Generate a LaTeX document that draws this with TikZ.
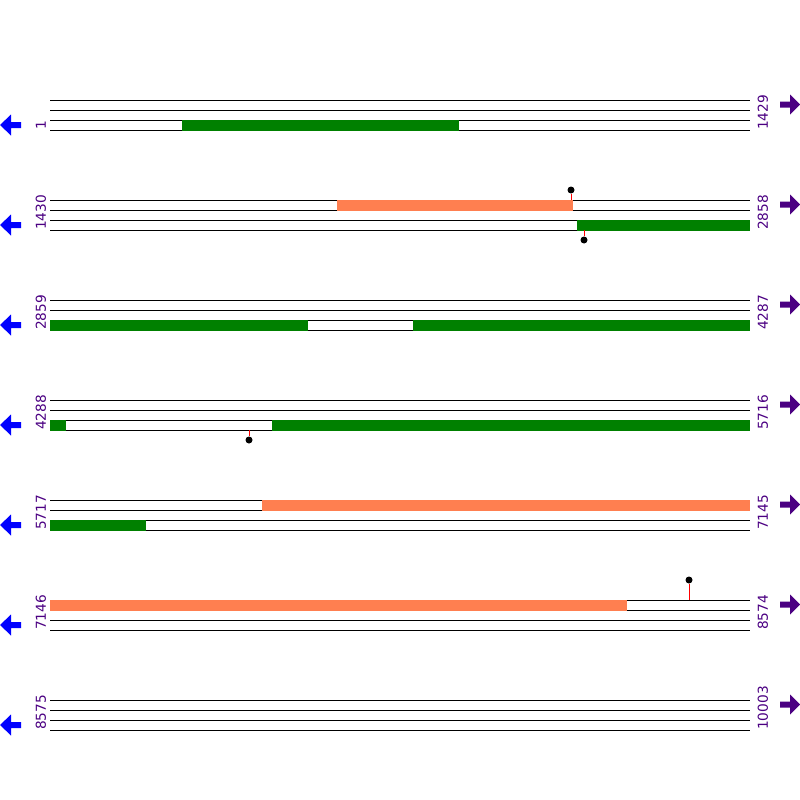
\documentclass[tikz,border=0pt]{standalone}
\usepackage{fontspec}
\setsansfont{DejaVu Sans}
\usepackage{xcolor}
\usepackage{tikz}
\usetikzlibrary{positioning}
\definecolor{seqpurple}{RGB}{75,0,130}
\definecolor{orfgreen}{RGB}{0,128,0}
\definecolor{orfcoral}{RGB}{255,127,80}
\tikzset{
  strand/.style={draw=black, line width=1pt},
  orf_g/.style={fill=orfgreen},
  orf_o/.style={fill=orfcoral},
  poslabel/.style={rotate=90, anchor=west, inner sep=0pt, text=seqpurple, font=\sffamily\fontsize{13.7}{14}\selectfont},
  pin_dot/.style={circle, fill=black, inner sep=0pt, minimum size=7pt},
  pin_stem/.style={draw=red, line width=1pt},
  dir_l/.style={fill=blue},
  dir_r/.style={fill=seqpurple}
}
\begin{document}
\begin{tikzpicture}[x=1pt,y=-1pt]
	\useasboundingbox (0,0) rectangle (800,800);
	\foreach \r/\lo/\hi in {0/1/1429,1/1430/2858,2/2859/4287,3/4288/5716,4/5717/7145,5/7146/8574,6/8575/10003}{
		\pgfmathsetmacro{\yb}{100+100*\r}
		\foreach \k in {0,...,3}
			\draw[strand] (50,\yb+10*\k) -- (750,\yb+10*\k);
		\node[poslabel] (lo\r) at (41,\yb+30) {\lo};
		\node[poslabel] (hi\r) at (763,\yb+30) {\hi};
		\fill[dir_l] (0,\yb+25) -- (11,\yb+14.5) -- (11,\yb+22) -- (21,\yb+22) -- (21,\yb+28) -- (11,\yb+28) -- (11,\yb+35.5) -- cycle;
		\fill[dir_r] (800,\yb+4.5) -- (790,\yb-5.5) -- (790,\yb+1.5) -- (780,\yb+1.5) -- (780,\yb+7.5) -- (790,\yb+7.5) -- (790,\yb+14.5) -- cycle;
	}
	% reading frames
	\fill[orf_g] (182,119.5) rectangle (459,130.5);
	\fill[orf_o] (337,199.5) rectangle (573,210.5);
	\fill[orf_g] (577,219.5) rectangle (750,230.5);
	\fill[orf_g] (50,319.5) rectangle (308,330.5);
	\fill[orf_g] (413,319.5) rectangle (750,330.5);
	\fill[orf_g] (50,419.5) rectangle (66,430.5);
	\fill[orf_g] (272,419.5) rectangle (750,430.5);
	\fill[orf_o] (262,499.5) rectangle (750,510.5);
	\fill[orf_g] (50,519.5) rectangle (146,530.5);
	\fill[orf_o] (50,599.5) rectangle (627,610.5);
	% sites
	\coordinate (s1) at (571,200);
	\coordinate (s2) at (584,230);
	\coordinate (s3) at (249,430);
	\coordinate (s4) at (689,600);
	\node[pin_dot] (p1) at (571,190) {};
	\node[pin_dot] (p2) at (584,240) {};
	\node[pin_dot] (p3) at (249,440) {};
	\node[pin_dot] (p4) at (689,580) {};
	\draw[pin_stem] (p1.south) -- (s1);
	\draw[pin_stem] (p2.north) -- (s2);
	\draw[pin_stem] (p3.north) -- (s3);
	\draw[pin_stem] (p4.south) -- (s4);
\end{tikzpicture}
\end{document}
